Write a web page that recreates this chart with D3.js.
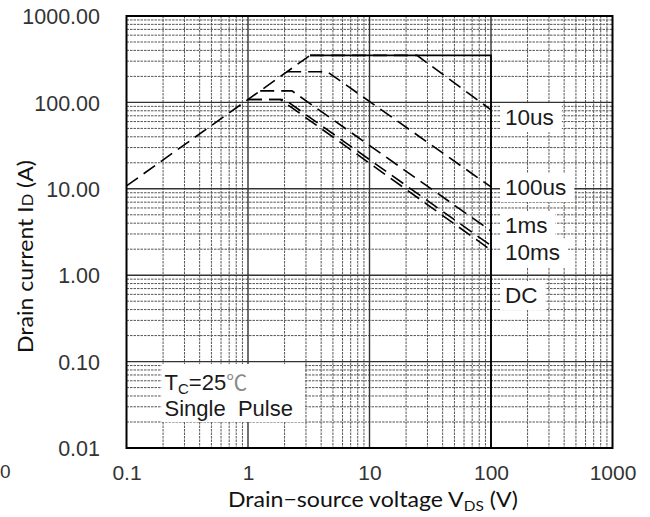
<!DOCTYPE html>
<html>
<head>
<meta charset="utf-8">
<script src="https://cdn.jsdelivr.net/npm/d3@7"></script>
<style>
  html, body { margin: 0; padding: 0; background: #fff; }
  svg { display: block; }
</style>
</head>
<body>
<svg id="chart" width="650" height="517"></svg>
<script>
// ---------------- DATA ----------------
const xTickValues = [0.1, 1, 10, 100, 1000];
const xTickLabels = ["0.1", "1", "10", "100", "1000"];
const yTickValues = [0.01, 0.1, 1, 10, 100, 1000];
const yTickLabels = ["0.01", "0.10", "1.00", "10.00", "100.00", "1000.00"];

// RDS(on) limit line (dashed)
const rdsLimit = [[0.1, 10.8], [3.24, 350]];
// Pulse curves: [VDS, ID]
const curve10us  = [[3.24, 350], [24.6, 350], [100, 82]];
const curve100us = [[2.1, 226], [4.5, 226], [100, 10.5]];
const curve1ms   = [[1.26, 136], [2.3, 136], [100, 3.25]];
const curve10ms  = [[1.0, 108], [2.0, 108], [100, 2.2]];
const curveDC    = [[1.0, 108], [1.85, 108], [100, 1.95]];
// Max current / max voltage envelope (solid)
const envelope = [[3.24, 350], [100, 350], [100, 0.01]];

const curveNames = ["10us", "100us", "1ms", "10ms", "DC"];
const curveLabelY = [67.8, 10.5, 3.8, 1.85, 0.59]; // label anchor values (A)

const noteLine1 = ["T", "C", "=25", "℃"];
const noteLine2 = "Single\u00a0\u00a0Pulse";

// ---------------- LAYOUT ----------------
const svg = d3.select("#chart");
const x = d3.scaleLog().domain([0.1, 1000]).range([126.5, 612.5]);
const y = d3.scaleLog().domain([0.01, 1000]).range([448, 16]);
const [x0, x1] = x.range();
const [y0, y1] = y.range();

const isMajor = v => Math.abs(Math.log10(v) - Math.round(Math.log10(v))) < 1e-9;

// ---------------- GRID ----------------
const grid = svg.append("g");
const xt = x.ticks();
const yt = y.ticks();
grid.selectAll("line.gx").data(xt.filter(v => !isMajor(v))).join("line")
  .attr("x1", d => x(d)).attr("x2", d => x(d)).attr("y1", y1).attr("y2", y0)
  .attr("stroke", "#555").attr("stroke-width", 1).attr("stroke-dasharray", "2.5,1");
grid.selectAll("line.gy").data(yt.filter(v => !isMajor(v))).join("line")
  .attr("x1", x0).attr("x2", x1).attr("y1", d => y(d)).attr("y2", d => y(d))
  .attr("stroke", "#555").attr("stroke-width", 1).attr("stroke-dasharray", "2.5,1");
grid.selectAll("line.mx").data(xTickValues.slice(1, -1)).join("line")
  .attr("x1", d => x(d)).attr("x2", d => x(d)).attr("y1", y1).attr("y2", y0)
  .attr("stroke", "#333").attr("stroke-width", 1.4);
grid.selectAll("line.my").data(yTickValues.slice(1, -1)).join("line")
  .attr("x1", x0).attr("x2", x1).attr("y1", d => y(d)).attr("y2", d => y(d))
  .attr("stroke", "#333").attr("stroke-width", 1.4);

// ---------------- LABEL BOXES + LABELS ----------------
const labelFont = "'Liberation Sans', Arial, sans-serif";
const labelsG = svg.append("g");
const boxesG = labelsG.append("g");
const textsG = labelsG.append("g");
const lblX = x(100) + 14;
curveNames.forEach((name, i) => {
  const t = textsG.append("text")
    .attr("x", lblX).attr("y", y(curveLabelY[i]))
    .attr("dy", "0.36em")
    .attr("font-family", labelFont).attr("font-size", 22.5)
    .attr("fill", "#1a1a1a").text(name);
  const b = t.node().getBBox();
  boxesG.append("rect")
    .attr("x", x(100) + 9).attr("y", b.y - 2)
    .attr("width", b.x + b.width - (x(100) + 9) + 8).attr("height", b.height + 4)
    .attr("fill", "#fff");
});

// note box
const noteG = svg.append("g");
const noteX = x(0.1) + 38;
const n1 = noteG.append("text").attr("x", noteX).attr("y", 390)
  .attr("font-family", labelFont).attr("font-size", 22).attr("fill", "#1a1a1a");
n1.append("tspan").text(noteLine1[0]);
n1.append("tspan").attr("font-size", 15).attr("dy", 4).text(noteLine1[1]);
n1.append("tspan").attr("dy", -4).text(noteLine1[2]);
n1.append("tspan").attr("fill", "#8a8a8a").attr("font-family", "'Noto Sans CJK SC', sans-serif").attr("font-size", 21).text(noteLine1[3]);
const n2 = noteG.append("text").attr("x", noteX).attr("y", 416)
  .attr("font-family", labelFont).attr("font-size", 22).attr("fill", "#1a1a1a")
  .text(noteLine2);
const nb = noteG.node().getBBox();
noteG.insert("rect", "text")
  .attr("x", nb.x - 3).attr("y", nb.y - 2)
  .attr("width", 305 - (nb.x - 3)).attr("height", 422 - (nb.y - 2))
  .attr("fill", "#fff");

// ---------------- CURVES ----------------
const line = d3.line().x(d => x(d[0])).y(d => y(d[1]));
const curvesG = svg.append("g").attr("fill", "none");
[rdsLimit, curve10us, curve100us, curve1ms, curve10ms, curveDC].forEach(c => {
  curvesG.append("path").attr("d", line(c))
    .attr("stroke", "#000").attr("stroke-width", 1.6)
    .attr("stroke-dasharray", "14,7");
});
curvesG.append("path").attr("d", line(envelope))
  .attr("stroke", "#000").attr("stroke-width", 1.8);

// ---------------- FRAME ----------------
svg.append("rect").attr("x", x0).attr("y", y1)
  .attr("width", x1 - x0).attr("height", y0 - y1)
  .attr("fill", "none").attr("stroke", "#000").attr("stroke-width", 2);

// ---------------- AXES ----------------
const tickFont = "'Liberation Sans', Arial, sans-serif";
const xAxis = d3.axisBottom(x).tickValues(xTickValues)
  .tickFormat((d, i) => xTickLabels[i]).tickSize(0).tickPadding(0);
const xg = svg.append("g").attr("transform", `translate(0,${y0})`).call(xAxis);
xg.select(".domain").remove();
xg.selectAll("text").attr("font-family", tickFont).attr("font-size", 21)
  .attr("fill", "#333").attr("y", 32).attr("dy", 0);

const yAxis = d3.axisLeft(y).tickValues(yTickValues)
  .tickFormat((d, i) => yTickLabels[i]).tickSize(0).tickPadding(0);
const yg = svg.append("g").attr("transform", `translate(${x0 - 26.5},0)`).call(yAxis);
yg.select(".domain").remove();
yg.selectAll("text").attr("font-family", tickFont).attr("font-size", 21.5)
  .attr("fill", "#333").attr("dy", "0.36em");

// stray fragment at lower-left of the reference
svg.append("text").attr("x", 0).attr("y", 478)
  .attr("font-family", tickFont).attr("font-size", 19).attr("fill", "#333").text("0");

// ---------------- AXIS TITLES ----------------
const titleFont = "Lato, 'Open Sans', sans-serif";
const xt1 = svg.append("text").attr("x", 228).attr("y", 507)
  .attr("font-family", titleFont).attr("font-size", 21).attr("fill", "#111");
xt1.append("tspan").text("Drain\u2212source voltage V");
xt1.append("tspan").attr("font-size", 14).attr("dy", 4).text("DS");
xt1.append("tspan").attr("dy", -4).text(" (V)");
xt1.attr("textLength", 290).attr("lengthAdjust", "spacingAndGlyphs");

const yt1 = svg.append("text")
  .attr("transform", "translate(33,353) rotate(-90)")
  .attr("font-family", titleFont).attr("font-size", 21).attr("fill", "#111");
yt1.append("tspan").text("Drain current I");
yt1.append("tspan").attr("font-size", 15).text("D");
yt1.append("tspan").text(" (A)");
yt1.attr("textLength", 193).attr("lengthAdjust", "spacingAndGlyphs");
</script>
</body>
</html>
